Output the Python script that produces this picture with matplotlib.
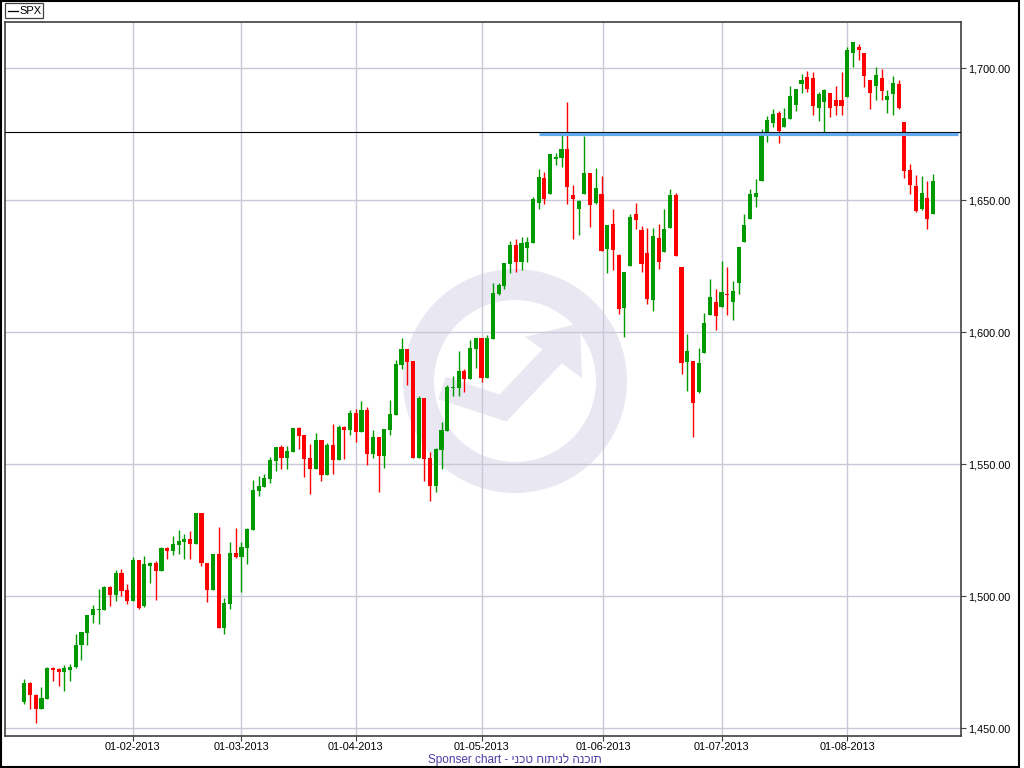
import matplotlib
matplotlib.use("Agg")
import matplotlib.pyplot as plt
import matplotlib.patches as mpatches
from matplotlib.lines import Line2D
from matplotlib.transforms import Affine2D
import numpy as np
import pandas as pd

# ── Data: SPX daily candles ───────────────────────────────

start_date = "2013-01-04"
end_date = "2013-08-22"
holidays = ["2013-01-21", "2013-02-18", "2013-03-29", "2013-05-27", "2013-07-04"]

opens = [
    1459.7, 1467.2, 1462.6, 1457.4, 1461.1, 1472.8, 1472.5, 1471.1, 1472.2, 1473.0,
    1481.3, 1486.2, 1492.7, 1494.9, 1494.9, 1503.5, 1500.5, 1508.6, 1502.4, 1498.3,
    1513.7, 1496.1, 1511.6, 1512.7, 1509.7, 1518.2, 1517.2, 1519.5, 1520.6, 1521.7,
    1519.9, 1531.6, 1512.6, 1502.5, 1516.0, 1488.1, 1497.2, 1516.4, 1514.9, 1518.3,
    1525.1, 1540.0, 1541.4, 1544.4, 1551.2, 1556.5, 1552.4, 1554.6, 1563.7, 1561.1,
    1552.4, 1548.2, 1559.2, 1546.0, 1557.3, 1551.6, 1564.1, 1563.0, 1569.4, 1562.2,
    1570.6, 1553.9, 1560.3, 1553.1, 1563.0, 1568.7, 1587.6, 1593.7, 1589.1, 1552.5,
    1575.1, 1552.5, 1541.9, 1555.5, 1562.7, 1579.0, 1579.0, 1585.3, 1582.4, 1593.8,
    1597.8, 1582.8, 1597.6, 1614.5, 1617.5, 1625.9, 1633.1, 1626.6, 1631.9, 1633.8,
    1649.1, 1658.4, 1652.4, 1665.6, 1666.0, 1669.4, 1652.0, 1646.7, 1652.4, 1660.3,
    1649.0, 1652.4, 1631.6, 1641.0, 1629.3, 1609.2, 1625.1, 1644.8, 1638.7, 1630.0,
    1612.2, 1635.7, 1630.4, 1639.5, 1652.0, 1624.7, 1588.7, 1589.1, 1577.4, 1592.2,
    1606.6, 1611.5, 1609.6, 1614.7, 1611.5, 1618.6, 1634.2, 1642.9, 1651.2, 1657.3,
    1675.1, 1679.3, 1683.1, 1677.8, 1680.8, 1686.1, 1694.1, 1696.7, 1696.3, 1685.0,
    1687.2, 1690.6, 1688.0, 1688.0, 1689.1, 1705.8, 1708.1, 1705.8, 1695.6, 1693.3,
    1696.3, 1688.0, 1690.3, 1694.1, 1679.7, 1661.5, 1655.4, 1646.7, 1650.9, 1644.8,
]
highs = [
    1468.7, 1467.4, 1462.8, 1465.4, 1473.0, 1473.3, 1472.7, 1474.0, 1474.3, 1485.7,
    1486.6, 1493.0, 1496.7, 1502.8, 1503.9, 1503.9, 1510.0, 1510.3, 1504.7, 1514.7,
    1513.8, 1515.4, 1513.1, 1513.4, 1518.8, 1518.7, 1522.8, 1525.1, 1523.6, 1524.7,
    1531.7, 1531.7, 1512.7, 1516.1, 1526.2, 1499.3, 1520.6, 1525.9, 1520.6, 1525.9,
    1544.0, 1545.6, 1546.3, 1552.8, 1556.6, 1557.3, 1556.9, 1563.8, 1564.1, 1561.2,
    1557.7, 1561.9, 1559.3, 1558.1, 1565.3, 1564.9, 1564.5, 1570.6, 1570.9, 1574.0,
    1571.7, 1563.0, 1560.4, 1563.5, 1574.4, 1589.5, 1597.8, 1593.8, 1589.2, 1575.9,
    1575.2, 1554.8, 1556.0, 1566.0, 1580.0, 1583.4, 1592.9, 1586.1, 1597.1, 1597.9,
    1597.9, 1599.0, 1618.5, 1618.7, 1626.4, 1634.5, 1635.3, 1636.1, 1636.1, 1651.2,
    1661.9, 1660.7, 1667.6, 1667.9, 1675.1, 1687.2, 1655.8, 1650.1, 1674.4, 1660.4,
    1662.2, 1659.2, 1640.8, 1646.7, 1629.7, 1622.9, 1644.8, 1649.0, 1640.3, 1639.5,
    1639.5, 1641.0, 1646.7, 1654.3, 1652.8, 1624.8, 1599.3, 1589.2, 1594.1, 1607.3,
    1620.2, 1616.4, 1627.0, 1624.7, 1619.4, 1632.4, 1644.8, 1654.3, 1658.1, 1677.0,
    1681.9, 1684.6, 1683.8, 1685.0, 1693.3, 1692.3, 1697.8, 1699.0, 1698.6, 1691.0,
    1692.2, 1690.7, 1693.3, 1698.6, 1708.1, 1710.1, 1709.2, 1705.9, 1695.7, 1700.5,
    1699.7, 1691.8, 1697.1, 1695.6, 1679.8, 1663.8, 1659.6, 1659.2, 1657.3, 1659.9,
]
lows = [
    1459.3, 1457.1, 1452.1, 1457.2, 1461.0, 1467.9, 1466.0, 1464.1, 1467.9, 1472.8,
    1475.9, 1481.3, 1490.0, 1489.5, 1494.8, 1496.3, 1498.3, 1500.1, 1497.2, 1498.2,
    1495.3, 1496.0, 1504.8, 1498.7, 1509.6, 1513.9, 1515.6, 1516.0, 1514.1, 1514.1,
    1519.8, 1511.6, 1497.6, 1502.4, 1488.0, 1485.5, 1495.2, 1514.5, 1501.6, 1512.2,
    1525.0, 1538.0, 1541.3, 1542.9, 1547.5, 1548.2, 1548.2, 1554.5, 1555.8, 1545.2,
    1538.7, 1548.1, 1543.7, 1545.9, 1546.3, 1551.5, 1552.0, 1561.1, 1558.4, 1562.1,
    1549.7, 1552.4, 1539.5, 1548.6, 1561.1, 1568.6, 1586.1, 1580.0, 1552.4, 1552.4,
    1543.8, 1536.2, 1539.6, 1548.3, 1562.6, 1576.0, 1576.0, 1577.5, 1582.3, 1586.6,
    1581.3, 1582.7, 1597.5, 1614.1, 1616.4, 1622.5, 1622.8, 1623.6, 1626.6, 1633.7,
    1646.8, 1648.6, 1652.3, 1663.4, 1662.6, 1648.6, 1635.3, 1636.9, 1652.3, 1639.9,
    1648.6, 1630.7, 1622.5, 1623.6, 1606.9, 1598.2, 1625.0, 1639.1, 1622.8, 1610.7,
    1608.1, 1624.0, 1630.3, 1639.4, 1628.9, 1584.2, 1577.8, 1560.3, 1577.0, 1592.1,
    1606.5, 1600.9, 1609.5, 1606.5, 1604.6, 1614.5, 1634.1, 1642.8, 1647.5, 1657.2,
    1672.1, 1677.8, 1671.7, 1677.7, 1680.7, 1683.8, 1690.6, 1691.0, 1682.3, 1680.0,
    1675.9, 1681.5, 1682.3, 1682.3, 1689.0, 1700.5, 1703.2, 1692.9, 1684.6, 1688.0,
    1688.0, 1683.1, 1682.3, 1684.6, 1658.4, 1652.4, 1645.6, 1646.3, 1639.1, 1644.7,
]
closes = [
    1467.2, 1462.4, 1457.4, 1461.5, 1472.8, 1472.2, 1471.1, 1472.8, 1473.3, 1481.5,
    1486.5, 1492.9, 1495.2, 1495.2, 1503.5, 1500.5, 1508.6, 1502.1, 1498.3, 1513.7,
    1495.4, 1512.0, 1512.7, 1509.7, 1518.2, 1517.2, 1519.8, 1521.0, 1521.7, 1519.9,
    1531.6, 1512.4, 1502.5, 1516.0, 1488.1, 1497.5, 1516.4, 1514.9, 1518.7, 1525.5,
    1540.3, 1541.8, 1544.8, 1551.6, 1556.5, 1552.4, 1555.0, 1563.7, 1560.7, 1552.0,
    1548.2, 1559.2, 1546.0, 1557.3, 1551.6, 1564.1, 1563.0, 1569.4, 1562.2, 1570.6,
    1553.9, 1560.3, 1553.1, 1563.4, 1569.0, 1588.0, 1593.7, 1588.9, 1552.5, 1575.1,
    1552.1, 1541.9, 1555.9, 1563.0, 1579.3, 1579.3, 1585.3, 1582.4, 1594.0, 1597.8,
    1582.7, 1597.8, 1614.9, 1617.9, 1626.3, 1633.1, 1626.6, 1633.8, 1634.2, 1650.5,
    1658.8, 1650.5, 1667.5, 1666.4, 1669.4, 1655.0, 1650.5, 1649.7, 1660.3, 1648.2,
    1654.6, 1630.8, 1640.7, 1631.2, 1608.8, 1622.8, 1643.7, 1642.5, 1625.9, 1612.6,
    1636.5, 1626.6, 1639.1, 1652.0, 1629.0, 1588.2, 1592.9, 1573.2, 1588.4, 1603.5,
    1613.4, 1606.2, 1615.3, 1614.3, 1615.6, 1632.3, 1640.6, 1652.4, 1652.8, 1675.1,
    1680.4, 1682.7, 1676.3, 1681.2, 1689.5, 1692.2, 1695.6, 1692.2, 1685.7, 1690.3,
    1691.8, 1685.0, 1685.7, 1685.7, 1706.9, 1710.0, 1707.0, 1697.1, 1690.6, 1697.5,
    1691.4, 1689.5, 1694.4, 1685.0, 1661.1, 1655.8, 1645.9, 1652.8, 1642.9, 1657.3,
]

# drawn horizontal levels
level_black = 1675.8
level_blue = 1675.3
blue_from = "2013-05-15"

month_starts = ["2013-02-01", "2013-03-01", "2013-04-01", "2013-05-01",
                "2013-06-01", "2013-07-01", "2013-08-01"]
y_ticks = [1450, 1500, 1550, 1600, 1650, 1700]

footer_latin = "Sponser chart - "
footer_hebrew = "תוכנה לניתוח טכני"

# ── Style ──────────────────────────────────────────────────

GREEN = "#009A00"
RED = "#FF0000"
GRID = "#C9C8D6"
FRAME = "#404040"
WATERMARK = "#E8E7F2"
FOOTER = "#4B3DA8"
FONT = ["Liberation Sans", "DejaVu Sans"]

plt.rcParams["font.family"] = FONT

W, H = 1024, 768
fig = plt.figure(figsize=(W / 100, H / 100), dpi=100)
fig.patch.set_facecolor("white")

# axes box in pixels: left 5, right 961, top 22, bottom 736
ax = fig.add_axes([5 / W, 1 - 736 / H, 956 / W, 714 / H])
ax.set_facecolor("white")

# pixel transform (origin top-left) for decorations
px = Affine2D().scale(1 / W, -1 / H).translate(0, 1) + fig.transFigure

# ── Trading-day index ──────────────────────────────────────

dates = pd.bdate_range(start_date, end_date)
dates = dates[~dates.isin(pd.to_datetime(holidays))]
idx = np.arange(len(dates))
date_ns = dates.values.astype("int64")

o = np.array(opens)
h = np.array(highs)
l = np.array(lows)
c = np.array(closes)
colors = np.where(c >= o, GREEN, RED)

tick_pos = np.interp(pd.to_datetime(month_starts).values.astype("int64"), date_ns, idx)
tick_lbl = [pd.Timestamp(d).strftime("%d-%m-%Y") for d in month_starts]

# ── Watermark (ring + arrow) ──────────────────────────────

ring = mpatches.Wedge((515, 381), 112, 0, 360, width=31, transform=px,
                      facecolor=WATERMARK, edgecolor="none", zorder=0.1)
ax.add_patch(ring)
shaft = Line2D([442, 503, 560], [388, 408, 348], transform=px, color=WATERMARK,
               lw=17, solid_joinstyle="miter", solid_capstyle="butt", zorder=0.1)
ax.add_line(shaft)
head = mpatches.Polygon([[580, 323], [582, 378], [525, 337]], closed=True, transform=px,
                        facecolor=WATERMARK, edgecolor="none", zorder=0.1)
ax.add_patch(head)

# ── Candles ────────────────────────────────────────────────

ax.vlines(idx, l, h, colors=colors, lw=1.0, zorder=3)
body = np.maximum(np.abs(c - o), 0.35)
ax.bar(idx, body, bottom=np.minimum(o, c), width=0.72, color=colors, linewidth=0, zorder=4)

# levels
ax.axhline(level_black, color="black", lw=0.8, zorder=5)
blue_x = np.interp(pd.Timestamp(blue_from).value, date_ns, idx)
ax.hlines(level_blue, blue_x, 163.4, color="#62AAEE", lw=2.3, zorder=5)

# ── Axes ───────────────────────────────────────────────────

ax.set_xlim(-3.38, 163.9)
ax.set_ylim(1447.0, 1717.6)

ax.set_xticks(tick_pos)
ax.set_xticklabels(tick_lbl)
ax.set_yticks(y_ticks)
ax.set_yticklabels([f"{v:,.2f}" for v in y_ticks])
ax.yaxis.tick_right()
ax.tick_params(axis="both", direction="out", length=3.5, width=0.8, color=FRAME,
               labelsize=7.8, labelcolor="black")
ax.tick_params(axis="x", pad=0.5)
ax.tick_params(axis="y", pad=1.5)

ax.grid(True, color=GRID, lw=1.0)
ax.set_axisbelow(True)
for s in ax.spines.values():
    s.set_color(FRAME)
    s.set_linewidth(1.2)

# ── Frame, legend box, footer ─────────────────────────────

outer = mpatches.Rectangle((1, 1), 1018, 765.5, transform=px, fill=False,
                           edgecolor="black", lw=1.5)
fig.patches.append(outer)

legend_box = mpatches.Rectangle((5, 3), 38, 15, transform=px, fill=False,
                                edgecolor=FRAME, lw=0.9)
fig.patches.append(legend_box)
fig.lines.append(Line2D([8, 18], [11, 11], transform=px, color="black", lw=0.9))
fig.text(19 / W, 1 - 11 / H, "SPX", fontsize=8, va="center", ha="left")

# matplotlib draws glyphs left to right, so the Hebrew run is reversed for display
fig.text(515 / W, 1 - 759.5 / H, footer_latin + footer_hebrew[::-1],
         fontsize=8.5, color=FOOTER, ha="center", va="center")

plt.savefig("out.png", dpi=100)
plt.close()
